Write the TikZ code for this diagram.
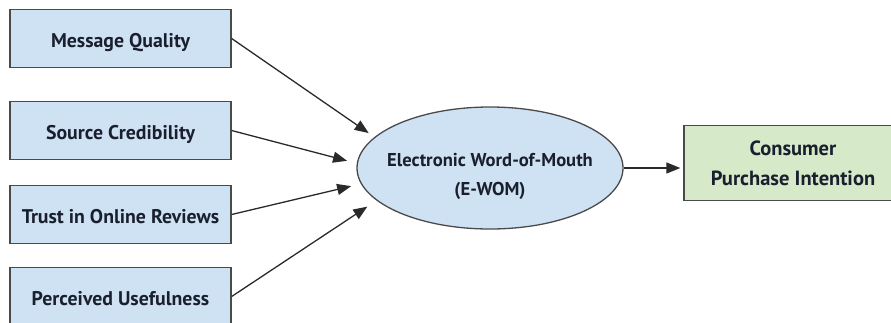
\documentclass[tikz,border=0pt]{standalone}
\usepackage{fontspec}
\setmainfont{PT Sans}
\usetikzlibrary{arrows.meta,shapes.geometric}
\definecolor{boxblue}{HTML}{CFE2F3}
\definecolor{ellblue}{HTML}{CFE2F3}
\definecolor{boxgreen}{HTML}{D6E9C9}
\definecolor{bordergray}{HTML}{4A4A4A}
\definecolor{arrowgray}{HTML}{2A2A2A}
\definecolor{textdark}{HTML}{1A1F2E}
\begin{document}
\begin{tikzpicture}[x=1pt,y=-1pt,
  factor/.style={draw=bordergray, line width=1.3pt, fill=boxblue,
    minimum width=221pt, minimum height=58pt, inner sep=0pt,
    text height=19pt, text depth=2pt,
    font=\bfseries\fontsize{19.8}{24}\selectfont, text=textdark},
  mediator/.style={ellipse, draw=bordergray, line width=1.3pt, fill=ellblue,
    minimum width=266pt, minimum height=122pt, inner sep=0pt,
    font=\bfseries\fontsize{18.6}{29}\selectfont, text=textdark},
  outcome/.style={draw=bordergray, line width=1.3pt, fill=boxgreen,
    minimum width=218pt, minimum height=75pt, inner sep=0pt, align=center,
    font=\bfseries\fontsize{20.5}{30}\selectfont, text=textdark},
  arr/.style={draw=arrowgray, line width=1.3pt,
    -{Triangle[length=14pt,width=11pt]}}
]
\useasboundingbox (0,0) rectangle (891,322);
\clip (0,0) rectangle (891,322);

\node[factor] (mq) at (120.5,38.5) {Message Quality};
\node[factor] (sc) at (120.5,130.5) {Source Credibility};
\node[factor] (tr) at (120.5,214.5) {Trust in Online Reviews};
\node[factor] (pu) at (120.5,296.5) {Perceived Usefulness};

\node[mediator] (ew) at (490,168)
  {\raisebox{-12pt}[0pt][0pt]{\makebox[0pt]{\begin{tabular}{@{}c@{}}Electronic Word-of-Mouth\\[0pt](E-WOM)\end{tabular}}}};

\node[outcome] (cp) at (793,163) {Consumer\\Purchase Intention};

\draw[arr, shorten >=7pt] (mq.east) -- (ew.165.8);
\draw[arr, shorten >=10pt] (sc.east) -- (ew.178.7);
\draw[arr, shorten >=10pt] (tr.east) -- (ew.187.3);
\draw[arr, shorten >=11pt] (pu.east) -- (ew.196.6);
\draw[arr, shorten >=3pt] (ew.east) -- (ew.east -| cp.west);
\end{tikzpicture}
\end{document}
